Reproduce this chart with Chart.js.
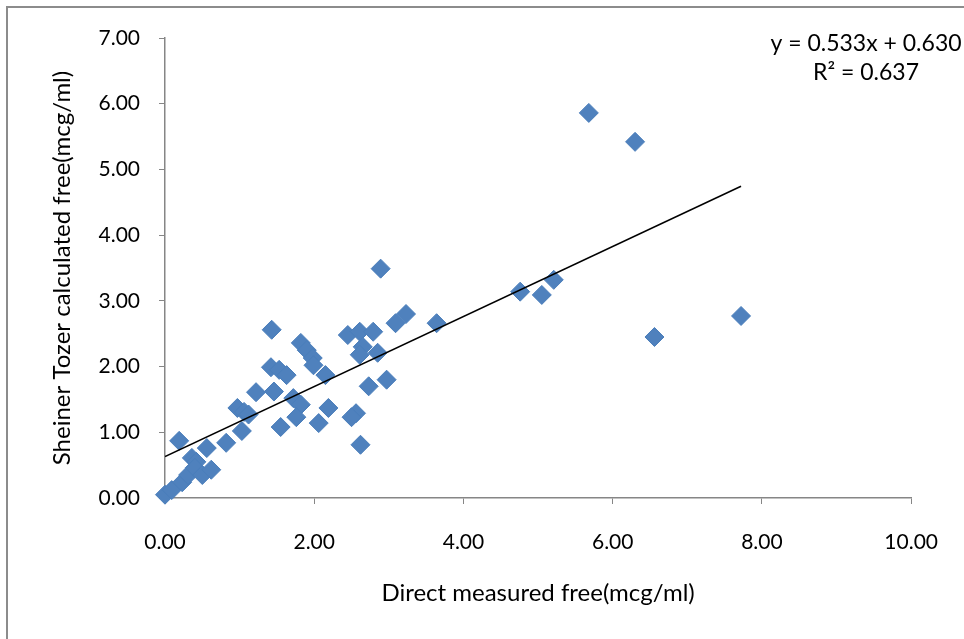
<!DOCTYPE html>
<html>
<head>
<meta charset="utf-8">
<title>Sheiner Tozer vs direct measured free</title>
<script src="https://cdn.jsdelivr.net/npm/chart.js"></script>
<style>
  body { margin: 0; background: #fff; }
  #wrap { width: 964px; height: 639px; position: relative; }
</style>
</head>
<body>
<div id="wrap"><canvas id="myChart"></canvas></div>
<script>
// Direct measured free (mcg/ml)
var directFree = [
  0.00, 0.09, 0.23, 0.31, 0.19, 0.36, 0.42, 0.40, 0.50, 0.62,
  0.56, 0.82, 1.03, 0.97, 1.06, 1.12, 1.22, 1.46, 1.55, 1.72,
  1.82, 1.76, 2.06, 2.19, 1.43, 1.42, 1.53, 1.63, 1.82, 1.90,
  1.98, 1.99, 2.15, 2.45, 2.61, 2.79, 2.65, 2.61, 2.85, 3.09,
  3.23, 2.89, 3.64, 2.73, 2.97, 2.56, 2.50, 2.62, 4.76, 5.05,
  5.21, 5.68, 6.30, 6.56, 7.72
];
// Sheiner Tozer calculated free (mcg/ml)
var sheinerTozer = [
  0.05, 0.12, 0.24, 0.35, 0.87, 0.61, 0.55, 0.46, 0.35, 0.43,
  0.76, 0.84, 1.02, 1.37, 1.31, 1.27, 1.61, 1.62, 1.08, 1.52,
  1.42, 1.23, 1.14, 1.37, 2.56, 1.99, 1.95, 1.87, 2.36, 2.25,
  2.13, 2.02, 1.87, 2.48, 2.53, 2.53, 2.30, 2.18, 2.21, 2.66,
  2.80, 3.49, 2.66, 1.70, 1.80, 1.29, 1.23, 0.81, 3.14, 3.09,
  3.32, 5.86, 5.42, 2.45, 2.77
];
// trendline as printed on the chart
var slope = 0.533;
var intercept = 0.630;
var rSquared = 0.637;

var points = directFree.map(function (x, i) { return { x: x, y: sheinerTozer[i] }; });
var xMax = Math.max.apply(null, directFree);
var trend = [
  { x: 0, y: intercept },
  { x: xMax, y: slope * xMax + intercept }
];

var fontName = 'Lato, "Open Sans", sans-serif';
var axisGrey = '#868686';

// outer frame and equation text
var extras = {
  id: 'extras',
  beforeDraw: function (c) {
    var ctx = c.ctx;
    ctx.save();
    ctx.fillStyle = '#fff';
    ctx.fillRect(0, 0, c.width, c.height);
    ctx.strokeStyle = '#8c8c8c';
    ctx.lineWidth = 2;
    ctx.strokeRect(7, 7, 2000, 2000);
    ctx.restore();
  },
  afterDraw: function (c) {
    var ctx = c.ctx;
    ctx.save();
    ctx.fillStyle = '#000';
    ctx.font = '23px ' + fontName;
    ctx.textAlign = 'center';
    ctx.textBaseline = 'middle';
    ctx.fillText('y = ' + slope.toFixed(3) + 'x + ' + intercept.toFixed(3), 866, 44);
    ctx.fillText('R\u00B2 = ' + rSquared.toFixed(3), 866, 73);
    ctx.restore();
  }
};

var chart = document.getElementById('myChart').getContext('2d');
var myChart = new Chart(chart, {
  type: 'scatter',
  data: {
    datasets: [
      {
        label: 'Sheiner Tozer',
        data: points,
        pointStyle: 'rectRot',
        pointRadius: 9.5,
        pointHoverRadius: 9.5,
        backgroundColor: '#4F81BD',
        borderColor: '#4A7EBB',
        borderWidth: 1,
        clip: false,
        order: 2
      },
      {
        label: 'Linear',
        type: 'line',
        data: trend,
        borderColor: '#000',
        borderWidth: 1.5,
        pointRadius: 0,
        fill: false,
        order: 1
      }
    ]
  },
  options: {
    responsive: true,
    maintainAspectRatio: false,
    animation: false,
    layout: { padding: { top: 38, right: 45, left: 0, bottom: 0 } },
    plugins: {
      legend: { display: false },
      tooltip: { enabled: false }
    },
    scales: {
      x: {
        type: 'linear',
        min: 0,
        max: 10,
        afterFit: function (s) { s.height = 141; },
        border: { color: axisGrey, width: 1.5 },
        grid: { drawOnChartArea: false, drawTicks: true, tickLength: 6, color: axisGrey },
        ticks: {
          stepSize: 2,
          padding: 26,
          color: '#000',
          font: { family: fontName, size: 21 },
          callback: function (v) { return v.toFixed(2); }
        },
        title: {
          display: true,
          text: 'Direct measured free(mcg/ml)',
          color: '#000',
          font: { family: fontName, size: 24 },
          padding: { top: 0, bottom: 31 }
        }
      },
      y: {
        type: 'linear',
        min: 0,
        max: 7,
        afterFit: function (s) { s.width = 165; },
        border: { color: axisGrey, width: 1.5 },
        grid: { drawOnChartArea: false, drawTicks: true, tickLength: 6, color: axisGrey },
        ticks: {
          stepSize: 1,
          padding: 19,
          color: '#000',
          font: { family: fontName, size: 21 },
          callback: function (v) { return v.toFixed(2); }
        },
        title: {
          display: true,
          text: 'Sheiner Tozer calculated free(mcg/ml)',
          color: '#000',
          font: { family: fontName, size: 24 },
          padding: { top: 48, bottom: 0 }
        }
      }
    }
  },
  plugins: [extras]
});
</script>
</body>
</html>
